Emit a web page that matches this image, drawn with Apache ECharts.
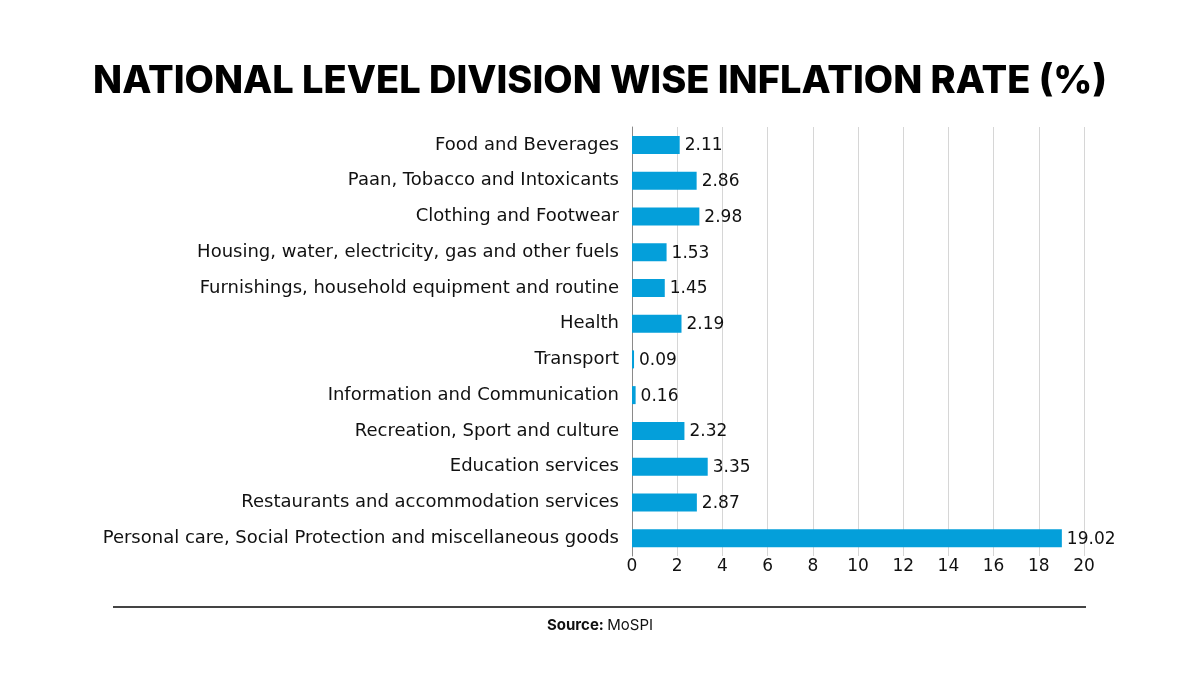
<!DOCTYPE html>
<html><head><meta charset="utf-8">
<script src="https://cdn.jsdelivr.net/npm/echarts@6/dist/echarts.min.js"></script>
<style>html,body{margin:0;padding:0;background:#fff}#c{width:1200px;height:675px}</style>
</head><body><div id="c"></div>
<script>
const categories = [
  "Food and Beverages",
  "Paan, Tobacco and Intoxicants",
  "Clothing and Footwear",
  "Housing, water, electricity, gas and other fuels",
  "Furnishings, household equipment and routine",
  "Health",
  "Transport",
  "Information and Communication",
  "Recreation, Sport and culture",
  "Education services",
  "Restaurants and accommodation services",
  "Personal care, Social Protection and miscellaneous goods"
];
const values = [2.11, 2.86, 2.98, 1.53, 1.45, 2.19, 0.09, 0.16, 2.32, 3.35, 2.87, 19.02];
const xTicks = [0, 2, 4, 6, 8, 10, 12, 14, 16, 18, 20];

const font = "Inter, 'Open Sans', sans-serif";
const labelFont = "'DejaVu Sans', 'Open Sans', sans-serif";
const chart = echarts.init(document.getElementById('c'));
chart.setOption({
  backgroundColor: '#fff',
  animation: false,
  title: {
    text: 'NATIONAL LEVEL DIVISION WISE INFLATION RATE (%)',
    left: 'center', top: 58,
    textStyle: { fontFamily: font, fontWeight: 800, fontSize: 38, color: '#000' }
  },
  grid: { left: 632, right: 116, top: 127, bottom: 119, containLabel: false },
  xAxis: {
    type: 'value', min: xTicks[0], max: xTicks[xTicks.length - 1], interval: 2,
    axisLine: { show: false }, axisTick: { show: false },
    splitLine: { show: true, lineStyle: { color: '#d6d6d6', width: 1 } },
    axisLabel: { fontFamily: labelFont, fontSize: 17, color: '#111', margin: 2 }
  },
  yAxis: {
    type: 'category', data: categories, inverse: true,
    axisLine: { show: true, lineStyle: { color: '#8a8a8a', width: 1 } },
    axisTick: { show: false },
    axisLabel: { fontFamily: labelFont, fontSize: 18, color: '#111', margin: 13 }
  },
  series: [{
    type: 'bar', data: values, barWidth: 18,
    itemStyle: { color: '#049fda' },
    label: { show: true, position: 'right', distance: 5, offset: [0, 1], fontFamily: labelFont, fontSize: 17, color: '#111',
      formatter: p => p.value.toFixed(2) }
  }],
  graphic: [
    { type: 'line', shape: { x1: 113, y1: 607, x2: 1086, y2: 607 }, style: { stroke: '#444', lineWidth: 2 } },
    { type: 'text', left: 'center', top: 618, style: {
      text: '{b|Source:} {n|MoSPI}',
      rich: {
        b: { fontFamily: font, fontWeight: 700, fontSize: 15, fill: '#111' },
        n: { fontFamily: font, fontWeight: 400, fontSize: 15, fill: '#111' }
      }
    } }
  ]
});
</script></body></html>
